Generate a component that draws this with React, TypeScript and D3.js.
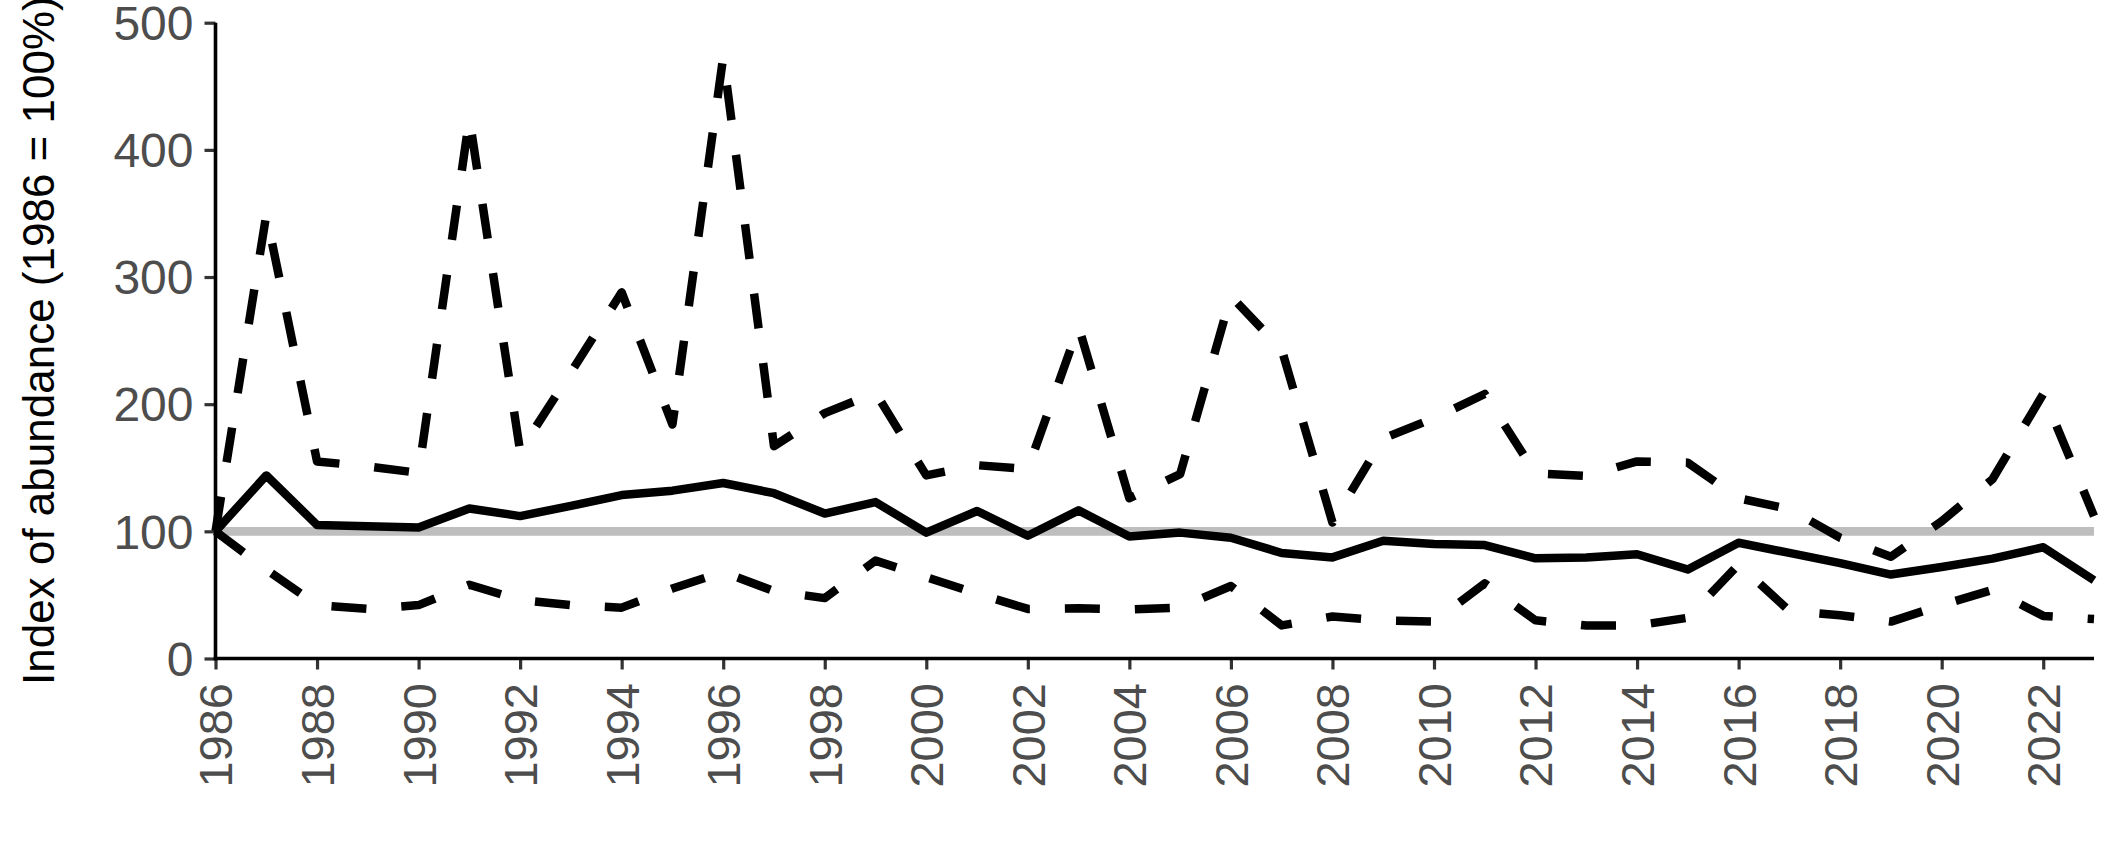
import React, { useEffect, useRef } from "react";
import * as d3 from "d3";

const years: number[] = d3.range(1986, 2024);

const meanIndex: number[] = [
  100, 144, 105, 104, 103, 118, 112, 120, 128.5, 132,
  138, 130, 114, 123, 99, 116, 96.5, 116.5, 96, 99,
  95, 83, 79.5, 92.6, 90, 89.2, 78.8, 79.5, 82, 70,
  91, 83, 75, 66, 72, 78.5, 87.5, 61.5,
];

const upperIndex: number[] = [
  100, 349, 155, 151, 146, 425, 163, 225, 288, 184,
  473, 167, 193, 209, 144, 152, 149, 261, 126, 145,
  285, 243, 107, 173, 189, 208, 145.5, 143.5, 155, 154,
  126, 117.5, 95, 80, 108, 141, 208, 112,
];

const lowerIndex: number[] = [
  100, 70, 42, 39, 42, 58, 46, 42, 40, 55,
  68, 53, 47.5, 77, 64, 51, 39, 39.5, 38.6, 40,
  57, 26, 33, 30, 29, 59, 30, 26, 26, 32,
  74, 37.5, 34, 29, 42, 54, 33.5, 31,
];

const yTicks: number[] = [0, 100, 200, 300, 400, 500];
const xTicks: number[] = d3.range(1986, 2023, 2);
const referenceLevel = 100;
const yTitle = "Index of abundance (1986 = 100%)";

const W = 2113;
const H = 853;
const FONT = '"Liberation Sans", Arial, Helvetica, sans-serif';

export default function App() {
  const ref = useRef<SVGSVGElement | null>(null);

  useEffect(() => {
    const svg = d3.select(ref.current);
    svg.selectAll("*").remove();

    const x = d3.scaleLinear().domain([1986, 2023]).range([215.5, 2094]);
    const y = d3.scaleLinear().domain([0, 500]).range([658.5, 22.7]);

    // reference line
    svg
      .append("line")
      .attr("x1", x(1986))
      .attr("x2", x(2023))
      .attr("y1", y(referenceLevel))
      .attr("y2", y(referenceLevel))
      .attr("stroke", "#BEBEBE")
      .attr("stroke-width", 8.7);

    const line = d3
      .line<number>()
      .x((_, i) => x(years[i]))
      .y((d) => y(d));

    const series: { data: number[]; dash: string | null }[] = [
      { data: upperIndex, dash: "35,35" },
      { data: lowerIndex, dash: "35,35" },
      { data: meanIndex, dash: null },
    ];
    series.forEach((s) => {
      const p = svg
        .append("path")
        .attr("d", line(s.data))
        .attr("fill", "none")
        .attr("stroke", "#000")
        .attr("stroke-width", 8.5)
        .attr("stroke-linejoin", "round")
        .attr("stroke-linecap", "butt");
      if (s.dash) p.attr("stroke-dasharray", s.dash);
    });

    // Y axis
    const gy = svg.append("g").attr("transform", `translate(${x(1986)},0)`);
    gy.call(
      d3
        .axisLeft(y)
        .tickValues(yTicks)
        .tickSize(11)
        .tickPadding(11)
        .tickFormat(d3.format("d"))
    );
    gy.select(".domain").remove();
    gy.selectAll(".tick line").attr("stroke", "#333333").attr("stroke-width", 3.2);
    gy.selectAll(".tick text")
      .attr("fill", "#4D4D4D")
      .attr("font-family", FONT)
      .attr("font-size", 48)
      .attr("dy", "0.35em");

    // X axis
    const gx = svg.append("g").attr("transform", `translate(0,${y(0)})`);
    gx.call(
      d3
        .axisBottom(x)
        .tickValues(xTicks)
        .tickSize(11)
        .tickFormat(d3.format("d"))
    );
    gx.select(".domain").remove();
    gx.selectAll(".tick line").attr("stroke", "#333333").attr("stroke-width", 3.2);
    gx.selectAll(".tick text")
      .attr("fill", "#4D4D4D")
      .attr("font-family", FONT)
      .attr("font-size", 47)
      .attr("text-anchor", "end")
      .attr("y", 0)
      .attr("dy", "0.35em")
      .attr("transform", "translate(0,24.5) rotate(-90)");

    // axis lines
    svg
      .append("line")
      .attr("x1", x(1986))
      .attr("x2", x(1986))
      .attr("y1", y(500))
      .attr("y2", y(0) + 1.8)
      .attr("stroke", "#000")
      .attr("stroke-width", 3.6);
    svg
      .append("line")
      .attr("x1", x(1986) - 1.8)
      .attr("x2", x(2023))
      .attr("y1", y(0))
      .attr("y2", y(0))
      .attr("stroke", "#000")
      .attr("stroke-width", 3.6);

    // Y title
    svg
      .append("text")
      .attr("transform", `translate(54,${(y(0) + y(500)) / 2}) rotate(-90)`)
      .attr("text-anchor", "middle")
      .attr("font-family", FONT)
      .attr("font-size", 44)
      .attr("fill", "#000")
      .text(yTitle);
  }, []);

  return (
    <svg
      ref={ref}
      width={W}
      height={H}
      style={{ position: "absolute", left: 0, top: 0, background: "#fff", display: "block" }}
    />
  );
}
